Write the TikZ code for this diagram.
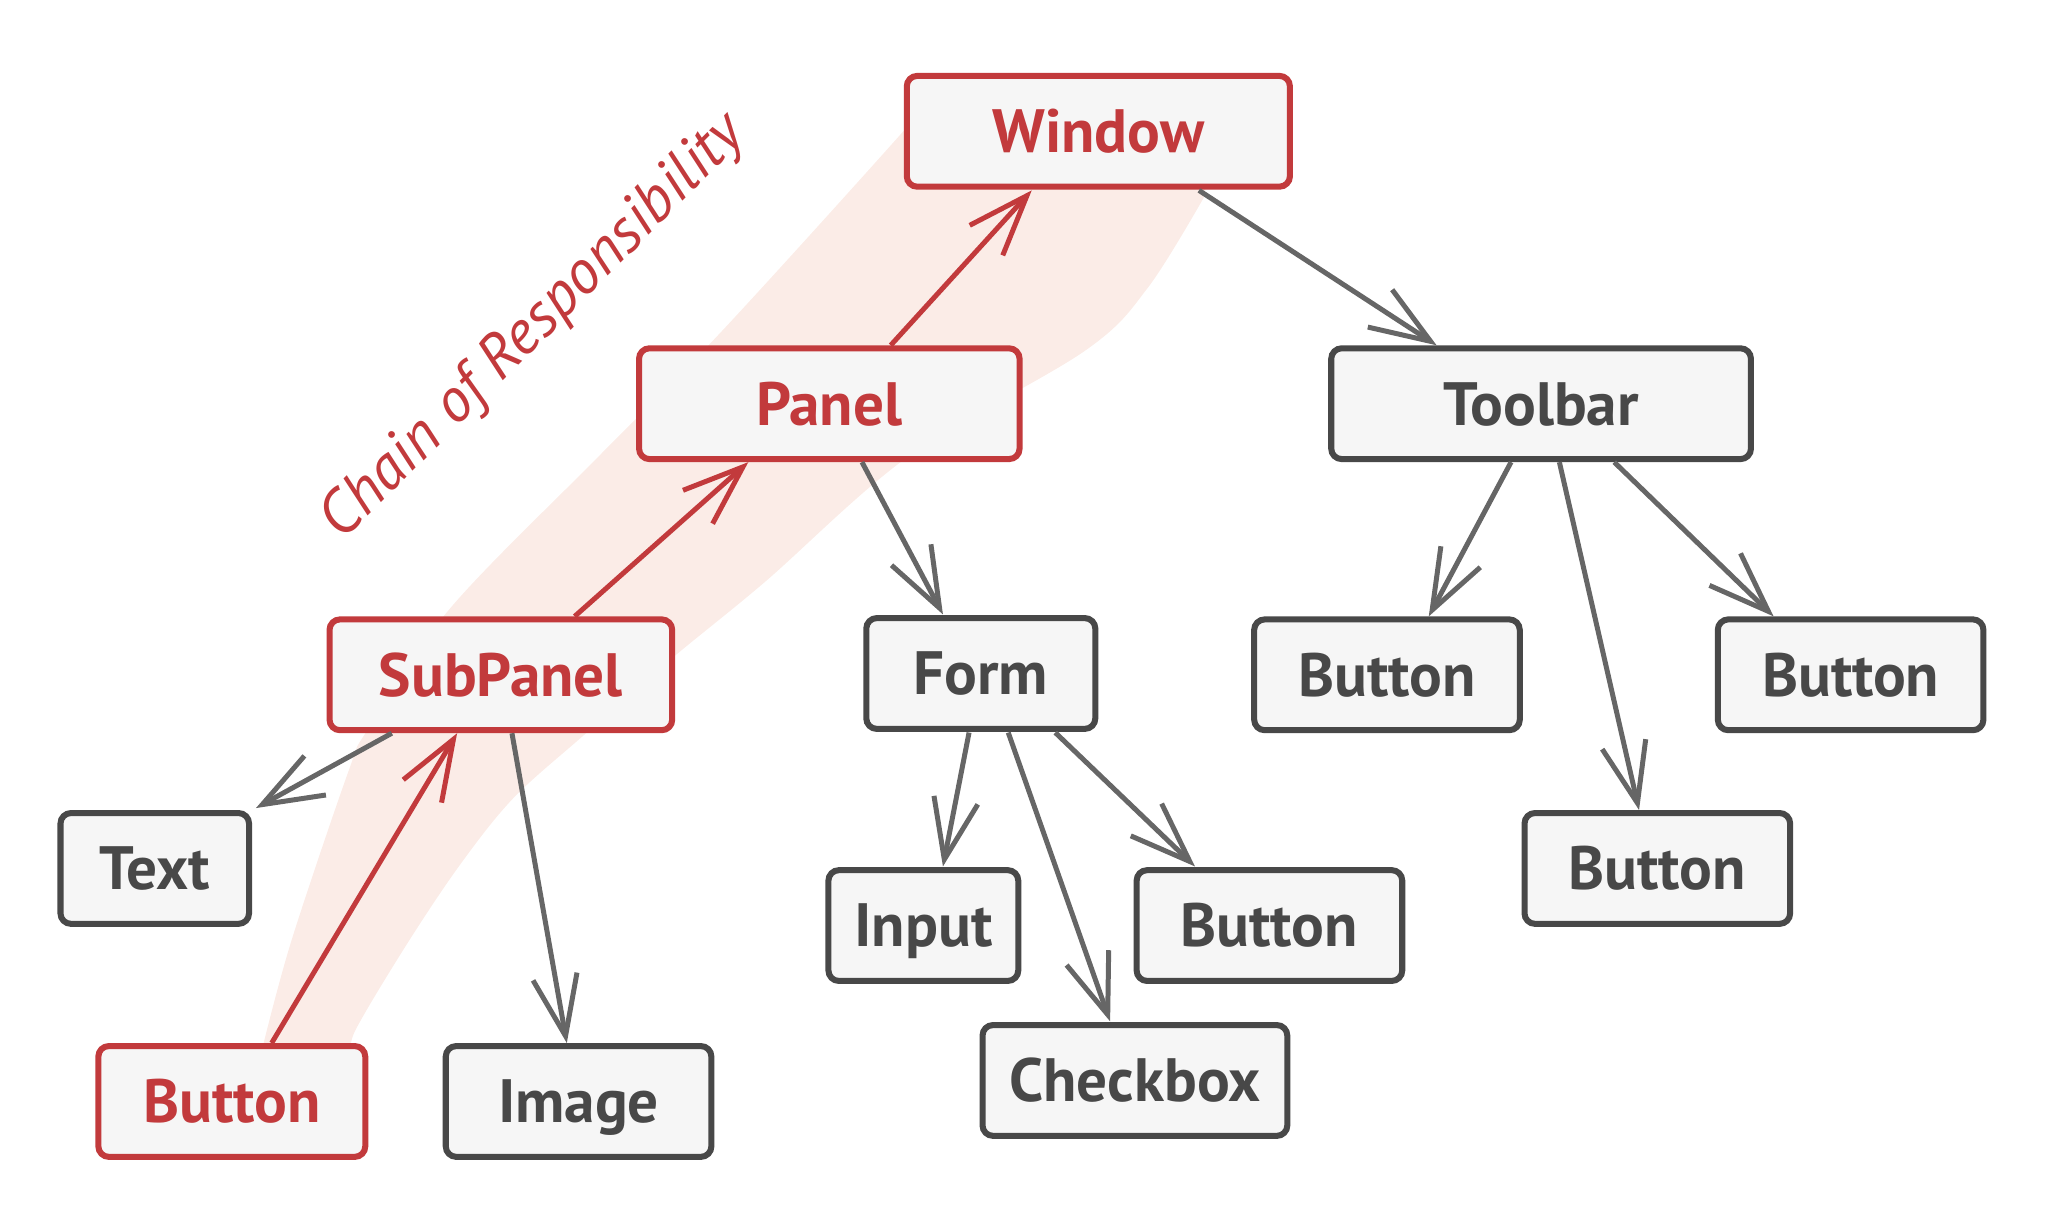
\documentclass[tikz,border=0pt]{standalone}
\usepackage{fontspec}
\setmainfont{PT Sans}
\usetikzlibrary{arrows.meta,calc}
\definecolor{cred}{RGB}{194,58,60}
\definecolor{cgray}{RGB}{72,72,72}
\definecolor{carrow}{RGB}{102,102,102}
\definecolor{cfill}{RGB}{246,246,246}
\definecolor{cband}{RGB}{251,236,231}
\begin{document}
\begin{tikzpicture}[x=0.4974pt,y=-0.5pt,
  box/.style={draw=cgray, fill=cfill, line width=2.3pt, rounded corners=4pt,
    inner sep=0pt, minimum height=42.2pt, text height=16.3pt, text depth=0pt,
    font=\fontsize{23.3}{26}\selectfont\bfseries, text=cgray},
  redbox/.style={box, draw=cred, text=cred},
  bw/.style={minimum width=#1*0.4974pt-2.3pt},
  conn/.style={draw=carrow, line width=1.9pt, -{Straight Barb[length=23pt,width=17pt]}},
  redconn/.style={conn, draw=cred},
  chainlabel/.style={text=cred, font=\fontsize{23.5}{26}\selectfont\itshape, rotate=45, inner sep=0pt}
]
\path[use as bounding box] (0pt,0pt) rectangle (780pt,-463.9pt);

% highlight band
\fill[cband] plot[smooth, tension=0.55] coordinates {(200,802) (223,717) (267,587) (282,555) (345,463) (460,346) (552,253) (689,103) (725,60)}
  -- (935,60) --
  plot[smooth, tension=0.55] coordinates {(922,150) (879,219) (831,267) (695,348) (586,443) (515,501) (447,560) (393,608) (352,659) (311,720) (272,785) (270,802)}
  -- cycle;

\node[chainlabel] (chain) at (409,250) {Chain of Responsibility};

\node[redbox, bw=298] (win) at (841,100) {Window};
\node[redbox, bw=296] (panel) at (635,307.5) {Panel};
\node[box, bw=326] (toolbar) at (1180,307.5) {Toolbar};
\node[redbox, bw=267] (sub) at (383.5,514) {SubPanel};
\node[box, bw=180] (form) at (751,513) {Form};
\node[box, bw=208] (btl) at (1062,514) {Button};
\node[box, bw=208] (btr) at (1417,514) {Button};
\node[box, bw=149] (text) at (118.5,661.5) {Text};
\node[box, bw=208] (btm) at (1269,661.5) {Button};
\node[box, bw=150] (input) at (707,705) {Input};
\node[box, bw=208] (btf) at (972,705) {Button};
\node[box, bw=238] (check) at (869,823) {Checkbox};
\node[redbox, bw=209] (btred) at (177.5,839) {Button};
\node[box, bw=208] (image) at (443,839) {Image};

% chain of responsibility (red)
\draw[redconn] ($(btred.center)+(30.5,-44.5)$) -- ($(sub.center)+(-33.5,44.5)$);
\draw[redconn] ($(sub.center)+(56.5,-44.5)$) -- ($(panel.center)+(-62,44.5)$);
\draw[redconn] ($(panel.center)+(47,-44.5)$) -- ($(win.center)+(-51,45)$);

% tree (gray)
\draw[conn] ($(win.center)+(77,45)$) -- ($(toolbar.center)+(-80,-44.5)$);
\draw[conn] ($(sub.center)+(-83.5,44.5)$) -- ($(text.center)+(77.5,-46)$);
\draw[conn] ($(sub.center)+(8.5,44.5)$) -- ($(image.center)+(-9,-44.5)$);
\draw[conn] ($(panel.center)+(25,44.5)$) -- ($(form.center)+(-29,-45)$);
\draw[conn] ($(form.center)+(-9,45)$) -- ($(input.center)+(15,-45)$);
\draw[conn] ($(form.center)+(21,45)$) -- ($(check.center)+(-19,-45)$);
\draw[conn] ($(form.center)+(57,45)$) -- ($(btf.center)+(-57,-45)$);
\draw[conn] ($(toolbar.center)+(-23,44.5)$) -- ($(btl.center)+(32,-44.5)$);
\draw[conn] ($(toolbar.center)+(14,44.5)$) -- ($(btm.center)+(-14,-44.5)$);
\draw[conn] ($(toolbar.center)+(56,44.5)$) -- ($(btr.center)+(-59,-44.5)$);
\end{tikzpicture}
\end{document}
